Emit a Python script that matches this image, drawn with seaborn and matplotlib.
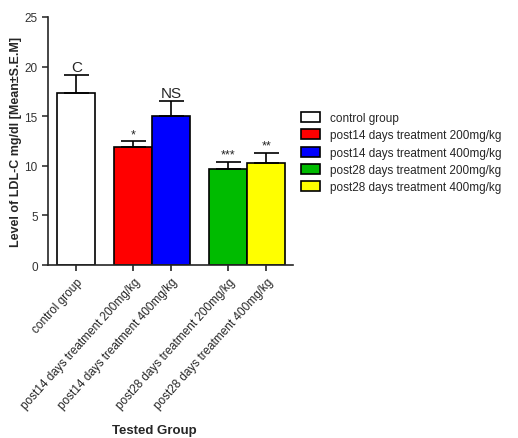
import matplotlib
matplotlib.use('Agg')
import matplotlib.pyplot as plt
import seaborn as sns
import pandas as pd

# data
groups = ['control group',
          'post14 days treatment 200mg/kg',
          'post14 days treatment 400mg/kg',
          'post28 days treatment 200mg/kg',
          'post28 days treatment 400mg/kg']
means = [17.3, 11.9, 15.0, 9.7, 10.3]
sems = [1.9, 0.6, 1.5, 0.7, 1.0]
marks = ['C', '*', 'NS', '***', '**']
colors = ['#ffffff', '#ff0000', '#0000ff', '#00bb00', '#ffff00']
xpos = [0, 1.5, 2.5, 4, 5]

df = pd.DataFrame({'pos': xpos, 'mean': means, 'group': groups})

sns.set_style('ticks')
plt.rcParams['font.family'] = ['Liberation Sans', 'DejaVu Sans']

fig = plt.figure(figsize=(5.18, 4.39), dpi=100)
ax = fig.add_axes([0.093, 0.394, 0.473, 0.565])

sns.barplot(data=df, x='pos', y='mean', hue='group', hue_order=groups,
            palette=colors, saturation=1, native_scale=True, dodge=False, width=1.0,
            edgecolor='black', linewidth=1.2, errorbar=None, ax=ax)

# upper-only SEM bars
ax.errorbar(xpos, means, yerr=[[0] * 5, sems], fmt='none', ecolor='black',
            elinewidth=1.2, capsize=9, capthick=1.2)

for x, m, s, t in zip(xpos, means, sems, marks):
    fs = 11 if t in ('C', 'NS') else 9
    ax.text(x, m + s + 0.1, t, ha='center', va='bottom', fontsize=fs)

ax.set_xlim(-0.74, 5.71)
ax.set_ylim(0, 25)
ax.set_yticks([0, 5, 10, 15, 20, 25])
ax.set_xticks(xpos)
ax.set_xticklabels(groups, rotation=48, ha='right', rotation_mode='anchor', fontsize=8.5)
ax.tick_params(axis='y', labelsize=8.5, length=4, width=1.2, colors='#333333')
ax.tick_params(axis='x', length=4, width=1.2)
for lab in ax.get_yticklabels():
    lab.set_color('#333333')
sns.despine(ax=ax)
ax.spines['left'].set_linewidth(1.2)
ax.spines['bottom'].set_linewidth(1.2)

ax.set_ylabel('Level of LDL-C mg/dl [Mean±S.E.M]', fontsize=9, fontweight='bold', labelpad=2)
ax.set_xlabel('')
fig.text(0.297, 0.004, 'Tested Group', ha='center', va='bottom', fontsize=9.5, fontweight='bold')

ax.legend(loc='upper left', bbox_to_anchor=(1.0, 0.65), frameon=False, fontsize=8.5,
          handlelength=1.6, handleheight=0.9, labelspacing=0.45, borderaxespad=0.3)

fig.savefig('out.png', dpi=100)
